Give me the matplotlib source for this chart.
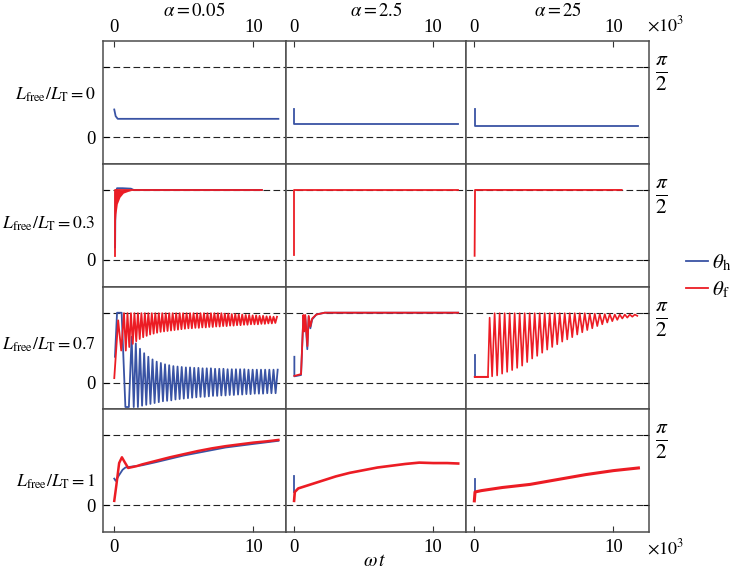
import numpy as np
import matplotlib
matplotlib.use('Agg')
import matplotlib.pyplot as plt

plt.rcParams['font.family'] = 'Liberation Serif'
plt.rcParams['mathtext.fontset'] = 'stix'

BLUE = '#3953a4'
RED = '#ec1c24'
HALF_PI = np.pi / 2

alphas = ['0.05', '2.5', '25']
ratios = ['0', '0.3', '0.7', '1']
xticks = [0, 10]

# ---- row L_free/L_T = 0 (theta_h only)
h_0_a_t = [0.0, 0.1, 0.25, 11.8]
h_0_a_y = [0.62, 0.47, 0.41, 0.41]
h_0_b_t = [0.02, 0.02, 11.8]
h_0_b_y = [0.62, 0.30, 0.30]
h_0_c_t = [0.02, 0.02, 11.8]
h_0_c_y = [0.62, 0.25, 0.25]

# ---- row L_free/L_T = 0.3
h_03_a_t = [0.06, 0.09, 0.2, 0.6, 1.2, 1.4, 10.6]
h_03_a_y = [0.28, 1.5, 1.61, 1.61, 1.6, 1.571, 1.571]
f_03_a_env_t = [0.03, 0.05, 0.08, 0.12, 0.22, 0.41, 0.65, 1.0, 1.37]
f_03_a_env_lo = [0.08, 0.5, 0.85, 1.03, 1.26, 1.41, 1.5, 1.54, 1.571]
f_03_a_t = [0.03, 0.03, 1.37, 10.6]
f_03_a_y = [0.08, 1.571, 1.571, 1.571]
f_03_b_t = [0.02, 0.02, 11.8]
f_03_b_y = [0.1, 1.571, 1.571]
f_03_c_t = [0.02, 0.05, 10.6]
f_03_c_y = [0.09, 1.571, 1.571]

# ---- row L_free/L_T = 0.7, alpha = 0.05
h_07_a_head_t = [0.05, 0.2, 0.53, 0.8, 1.05, 1.25]
h_07_a_head_y = [0.58, 1.57, 1.57, -0.55, -0.55, 1.03]
h_07_a_lo_t = [1.40, 1.70, 2.00, 2.30, 2.60, 2.90, 3.20, 3.50, 3.80, 4.10,
               4.40, 4.70, 5.00, 5.30, 5.60, 5.90, 6.20, 6.50, 6.80, 7.10,
               7.40, 7.70, 8.00, 8.30, 8.60, 8.90, 9.20, 9.50, 9.80, 10.10,
               10.40, 10.70, 11.00, 11.30, 11.60]
h_07_a_lo_y = [-0.55, -0.55, -0.52, -0.50, -0.48, -0.46, -0.44, -0.42, -0.41, -0.40,
               -0.38, -0.37, -0.36, -0.35, -0.34, -0.33, -0.32, -0.32, -0.31, -0.30,
               -0.30, -0.29, -0.29, -0.28, -0.28, -0.27, -0.27, -0.26, -0.26, -0.25,
               -0.25, -0.25, -0.24, -0.24, -0.24]
h_07_a_hi_t = [1.55, 1.85, 2.15, 2.45, 2.75, 3.05, 3.35, 3.65, 3.95, 4.25,
               4.55, 4.85, 5.15, 5.45, 5.75, 6.05, 6.35, 6.65, 6.95, 7.25,
               7.55, 7.85, 8.15, 8.45, 8.75, 9.05, 9.35, 9.65, 9.95, 10.25,
               10.55, 10.85, 11.15, 11.45, 11.75]
h_07_a_hi_y = [0.88, 0.76, 0.66, 0.58, 0.52, 0.47, 0.44, 0.41, 0.39, 0.37,
               0.36, 0.35, 0.34, 0.34, 0.33, 0.33, 0.32, 0.32, 0.32, 0.31,
               0.31, 0.31, 0.30, 0.30, 0.30, 0.30, 0.30, 0.29, 0.29, 0.29,
               0.29, 0.29, 0.29, 0.29, 0.29]

f_07_a_head_t = [0.0, 0.28, 0.5, 0.7]
f_07_a_head_y = [0.1, 1.4, 0.72, 1.56]
f_07_a_lo_t = [0.83, 1.08, 1.33, 1.58, 1.83, 2.08, 2.33, 2.58, 2.83, 3.08, 3.33,
               3.58, 3.83, 4.08, 4.33, 4.58, 4.83, 5.08, 5.33, 5.58, 5.83, 6.08,
               6.33, 6.58, 6.83, 7.08, 7.33, 7.58, 7.83, 8.08, 8.33, 8.58, 8.83,
               9.08, 9.33, 9.58, 9.83, 10.08, 10.33, 10.58, 10.83, 11.08, 11.33, 11.58]
f_07_a_lo_y = [0.72, 0.80, 0.87, 0.93, 0.98, 1.02, 1.05, 1.08, 1.10, 1.12, 1.14,
               1.15, 1.16, 1.17, 1.18, 1.19, 1.20, 1.21, 1.22, 1.22, 1.23, 1.23,
               1.24, 1.24, 1.25, 1.25, 1.26, 1.26, 1.27, 1.27, 1.28, 1.28, 1.29,
               1.29, 1.30, 1.30, 1.31, 1.31, 1.31, 1.32, 1.32, 1.33, 1.33, 1.34]
f_07_a_hi_t = [0.95, 1.20, 1.45, 1.70, 1.95, 2.20, 2.45, 2.70, 2.95, 3.20, 3.45,
               3.70, 3.95, 4.20, 4.45, 4.70, 4.95, 5.20, 5.45, 5.70, 5.95, 6.20,
               6.45, 6.70, 6.95, 7.20, 7.45, 7.70, 7.95, 8.20, 8.45, 8.70, 8.95,
               9.20, 9.45, 9.70, 9.95, 10.20, 10.45, 10.70, 10.95, 11.20, 11.45, 11.70]
f_07_a_hi_y = [1.56, 1.56, 1.56, 1.56, 1.56, 1.56, 1.56, 1.56, 1.56, 1.56, 1.56,
               1.56, 1.56, 1.56, 1.56, 1.56, 1.56, 1.56, 1.56, 1.56, 1.56, 1.56,
               1.56, 1.56, 1.56, 1.56, 1.56, 1.56, 1.55, 1.55, 1.54, 1.54, 1.53,
               1.53, 1.52, 1.52, 1.51, 1.51, 1.50, 1.50, 1.49, 1.49, 1.48, 1.48]

# ---- row L_free/L_T = 0.7, alpha = 2.5
h_07_b_t = [0.02, 0.02, 0.5, 0.67, 0.8, 0.95, 1.05, 1.17, 1.3, 1.6, 2.2, 11.8]
h_07_b_y = [0.58, 0.14, 0.17, 1.5, 1.5, 0.75, 1.48, 1.22, 1.42, 1.53, 1.571, 1.571]
f_07_b_t = [0.02, 0.5, 0.67, 0.74, 0.8, 0.96, 1.05, 1.17, 1.3, 1.6, 2.2, 11.8]
f_07_b_y = [0.15, 0.19, 1.52, 1.15, 1.52, 0.82, 1.5, 1.26, 1.44, 1.53, 1.571, 1.571]

# ---- row L_free/L_T = 0.7, alpha = 25
h_07_c_t = [0.02, 0.02]
h_07_c_y = [0.62, 0.12]
f_07_c_head_t = [0.02, 0.98]
f_07_c_head_y = [0.13, 0.13]
f_07_c_hi_t = [1.10, 1.46, 1.82, 2.18, 2.54, 2.90, 3.26, 3.62, 3.98, 4.34,
               4.70, 5.06, 5.42, 5.78, 6.14, 6.50, 6.86, 7.22, 7.58, 7.94,
               8.30, 8.66, 9.02, 9.38, 9.74, 10.10, 10.46, 10.82, 11.18, 11.54]
f_07_c_hi_y = [1.46, 1.56, 1.56, 1.56, 1.56, 1.56, 1.56, 1.56, 1.56, 1.56,
               1.56, 1.56, 1.56, 1.56, 1.56, 1.56, 1.56, 1.56, 1.56, 1.56,
               1.55, 1.55, 1.54, 1.54, 1.54, 1.53, 1.53, 1.53, 1.53, 1.53]
f_07_c_lo_t = [1.28, 1.64, 2.00, 2.36, 2.72, 3.08, 3.44, 3.80, 4.16, 4.52,
               4.88, 5.24, 5.60, 5.96, 6.32, 6.68, 7.04, 7.40, 7.76, 8.12,
               8.48, 8.84, 9.20, 9.56, 9.92, 10.28, 10.64, 11.00, 11.36, 11.72]
f_07_c_lo_y = [0.14, 0.16, 0.20, 0.24, 0.28, 0.33, 0.38, 0.46, 0.54, 0.60,
               0.67, 0.74, 0.80, 0.86, 0.92, 0.97, 1.02, 1.08, 1.13, 1.18,
               1.22, 1.27, 1.31, 1.35, 1.38, 1.41, 1.44, 1.46, 1.48, 1.50]

# ---- row L_free/L_T = 1
h_1_a_t = [0.0, 0.1, 0.35, 0.6, 0.8, 1.0, 2.0, 3.0, 5.0, 8.0, 10.0, 11.8]
h_1_a_y = [0.6, 0.55, 0.68, 0.8, 0.85, 0.86, 0.9, 0.97, 1.12, 1.3, 1.38, 1.45]
f_1_a_t = [0.0, 0.15, 0.35, 0.55, 0.75, 1.0, 1.3, 1.6, 2.0, 3.0, 4.0, 5.0,
           6.0, 7.0, 8.0, 9.0, 10.0, 11.0, 11.8]
f_1_a_y = [0.1, 0.45, 0.95, 1.08, 0.97, 0.84, 0.86, 0.88, 0.92, 1.0, 1.08, 1.15,
           1.22, 1.28, 1.33, 1.37, 1.41, 1.44, 1.47]
h_1_b_t = [0.02, 0.02]
h_1_b_y = [0.65, 0.3]
f_1_b_t = [0.0, 0.05, 0.3, 1.0, 2.0, 3.0, 4.0, 5.0, 6.0, 7.0, 8.0, 9.0, 10.0, 11.0, 11.8]
f_1_b_y = [0.1, 0.3, 0.38, 0.45, 0.55, 0.65, 0.73, 0.79, 0.85, 0.89, 0.93, 0.96, 0.95, 0.95, 0.94]
h_1_c_t = [0.02, 0.02]
h_1_c_y = [0.6, 0.25]
f_1_c_t = [0.0, 0.05, 0.5, 2.0, 4.0, 6.0, 8.0, 10.0, 11.8]
f_1_c_y = [0.1, 0.3, 0.33, 0.4, 0.47, 0.58, 0.69, 0.78, 0.84]


def zigzag(head_t, head_y, t1, y1, t2, y2):
    # merge the listed turning points into one path, ordered in time
    t = np.concatenate([t1, t2])
    y = np.concatenate([y1, y2])
    order = np.argsort(t)
    return (np.concatenate([head_t, t[order]]),
            np.concatenate([head_y, y[order]]))


h_07_a = zigzag(h_07_a_head_t, h_07_a_head_y, h_07_a_lo_t, h_07_a_lo_y, h_07_a_hi_t, h_07_a_hi_y)
f_07_a = zigzag(f_07_a_head_t, f_07_a_head_y, f_07_a_lo_t, f_07_a_lo_y, f_07_a_hi_t, f_07_a_hi_y)
f_07_c = zigzag(f_07_c_head_t, f_07_c_head_y, f_07_c_hi_t, f_07_c_hi_y, f_07_c_lo_t, f_07_c_lo_y)

# curves per panel: (row, col) -> list of (t, y, colour, lw)
panels = {
    (0, 0): [(h_0_a_t, h_0_a_y, BLUE, 1.3)],
    (0, 1): [(h_0_b_t, h_0_b_y, BLUE, 1.3)],
    (0, 2): [(h_0_c_t, h_0_c_y, BLUE, 1.3)],
    (1, 0): [(h_03_a_t, h_03_a_y, BLUE, 1.3), (f_03_a_t, f_03_a_y, RED, 1.3)],
    (1, 1): [(f_03_b_t, f_03_b_y, RED, 1.3)],
    (1, 2): [(f_03_c_t, f_03_c_y, RED, 1.3)],
    (2, 0): [(h_07_a[0], h_07_a[1], BLUE, 1.3), (f_07_a[0], f_07_a[1], RED, 1.3)],
    (2, 1): [(h_07_b_t, h_07_b_y, BLUE, 1.3), (f_07_b_t, f_07_b_y, RED, 1.3)],
    (2, 2): [(h_07_c_t, h_07_c_y, BLUE, 1.3), (f_07_c[0], f_07_c[1], RED, 1.2),
             (f_07_c_head_t, f_07_c_head_y, RED, 1.3)],
    (3, 0): [(h_1_a_t, h_1_a_y, BLUE, 1.3), (f_1_a_t, f_1_a_y, RED, 1.8)],
    (3, 1): [(h_1_b_t, h_1_b_y, BLUE, 1.3), (f_1_b_t, f_1_b_y, RED, 1.9)],
    (3, 2): [(h_1_c_t, h_1_c_y, BLUE, 1.3), (f_1_c_t, f_1_c_y, RED, 2.2)],
}

xlims = [(-0.81, 12.33), (-0.6, 12.39), (-0.57, 12.56)]
label_y = [0.96, 0.80, 0.85, 0.53]

W, H = 730, 574
fig, axes = plt.subplots(4, 3, figsize=(W / 100, H / 100), dpi=100,
                         gridspec_kw=dict(width_ratios=[b - a for a, b in xlims]))
fig.subplots_adjust(left=103 / W, right=649 / W, top=1 - 41 / H, bottom=1 - 532 / H,
                    hspace=0, wspace=0)

for r in range(4):
    for c in range(3):
        ax = axes[r, c]
        for yv in (0, HALF_PI):
            ax.axhline(yv, color='#222222', lw=0.8, ls=(0, (6, 3)), zorder=1)
        if (r, c) == (1, 0):
            ax.fill_between(f_03_a_env_t, f_03_a_env_lo, HALF_PI, color=RED, lw=0, zorder=3)
        for t, y, col, lw in panels[(r, c)]:
            ax.plot(t, y, color=col, lw=lw, zorder=3 if col == RED else 2)
        ax.set_xlim(*xlims[c])
        ax.set_ylim(-0.6, 2.16)
        for s in ax.spines.values():
            s.set_color('#4d4d4d')
            s.set_linewidth(1.1)

        ax.set_xticks(xticks)
        ax.tick_params(axis='x', direction='in', length=4, color='#333333',
                       top=(r == 0), bottom=(r == 3), labeltop=(r == 0),
                       labelbottom=(r == 3), labelsize=13.5, pad=3.5 if r == 0 else 5)
        ax.set_yticks([0, HALF_PI])
        if c == 0:
            ax.set_yticklabels(['0', ''])
            ax.tick_params(axis='y', direction='in', length=4, left=True, right=False,
                           labelsize=13.5, pad=5.5)
            ax.text(-0.04, label_y[r], r'$L_{\mathrm{free}}/L_{\mathrm{T}}=%s$' % ratios[r],
                    transform=ax.get_yaxis_transform(), ha='right', va='center', fontsize=12.8)
        elif c == 2:
            ax.yaxis.tick_right()
            ax.set_yticklabels(['', r'$\frac{\pi}{2}$'])
            ax.tick_params(axis='y', direction='in', length=4, left=False, right=True,
                           labelsize=22, pad=4)
        else:
            ax.tick_params(axis='y', left=False, right=False, labelleft=False)

for c in range(3):
    box = axes[0, c].get_position()
    fig.text((box.x0 + box.x1) / 2, 1 - 11 / H, r'$\alpha=%s$' % alphas[c],
             ha='center', va='center', fontsize=13.5)

fig.text(647 / W, 1 - 25 / H, r'$\times10^3$', ha='left', va='center', fontsize=13)
fig.text(647 / W, 1 - 548 / H, r'$\times10^3$', ha='left', va='center', fontsize=13)
fig.text(375 / W, 1 - 562 / H, r'$\omega\,t$', ha='center', va='center', fontsize=14)

handles = [plt.Line2D([], [], color=BLUE, lw=1.3), plt.Line2D([], [], color=RED, lw=1.3)]
fig.legend(handles, [r'$\theta_{\mathrm{h}}$', r'$\theta_{\mathrm{f}}$'],
           loc='center left', bbox_to_anchor=(667 / W, 1 - 276 / H), frameon=False,
           fontsize=15, handlelength=1.06, handletextpad=0.2, labelspacing=0.3)

fig.savefig('out.png', dpi=100)
